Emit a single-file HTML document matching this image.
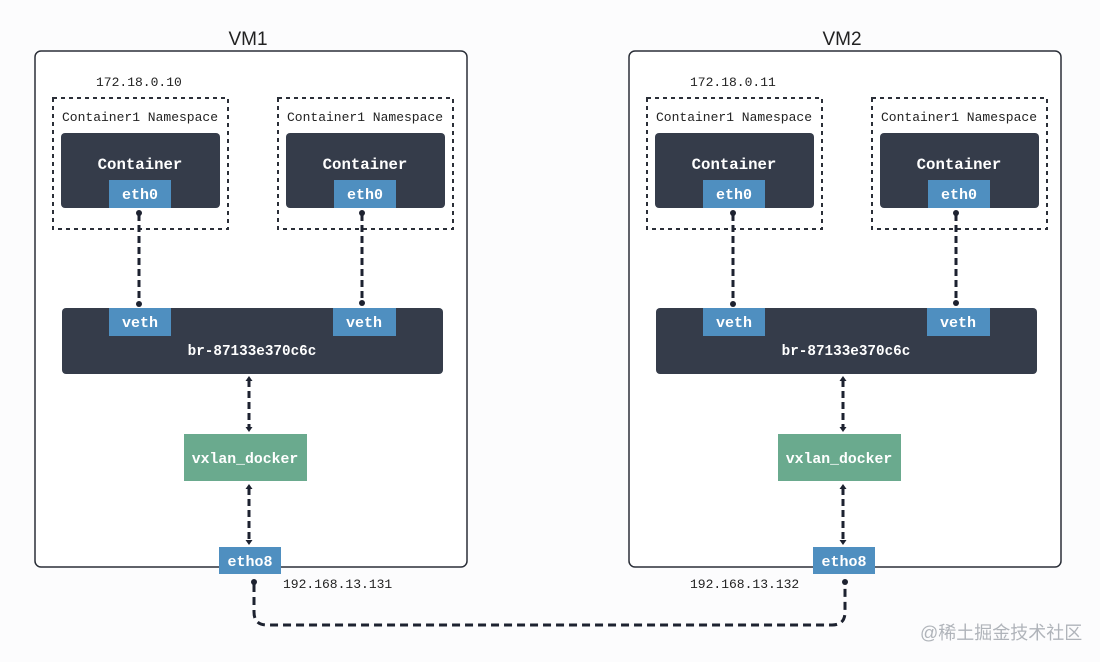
<!DOCTYPE html>
<html><head><meta charset="utf-8"><style>
html,body{margin:0;padding:0;background:#fcfcfd;}
svg{display:block}
.m{font-family:"Liberation Mono",monospace;}
</style></head><body>
<svg width="1100" height="662" viewBox="0 0 1100 662" xmlns="http://www.w3.org/2000/svg">
<rect width="1100" height="662" fill="#fcfcfd"/>
<defs>
<g id="vm">
  <rect x="35" y="51" width="432" height="516" rx="6" fill="#fff" stroke="#2b2f38" stroke-width="1.5"/>
  <rect x="53" y="98" width="175" height="131" fill="none" stroke="#2b2f38" stroke-width="2" stroke-dasharray="4,4"/>
  <rect x="278" y="98" width="175" height="131" fill="none" stroke="#2b2f38" stroke-width="2" stroke-dasharray="4,4"/>
  <text x="140" y="121" class="m" font-size="13" fill="#222" text-anchor="middle">Container1 Namespace</text>
  <text x="365" y="121" class="m" font-size="13" fill="#222" text-anchor="middle">Container1 Namespace</text>
  <rect x="61" y="133" width="159" height="75" rx="4" fill="#353c4a"/>
  <rect x="286" y="133" width="159" height="75" rx="4" fill="#353c4a"/>
  <text x="140" y="169" class="m" font-size="15.7" font-weight="bold" fill="#fff" text-anchor="middle">Container</text>
  <text x="365" y="169" class="m" font-size="15.7" font-weight="bold" fill="#fff" text-anchor="middle">Container</text>
  <rect x="109" y="180" width="62" height="28" fill="#4f8fc0"/>
  <rect x="334" y="180" width="62" height="28" fill="#4f8fc0"/>
  <text x="140" y="199" class="m" font-size="15" font-weight="bold" fill="#fff" text-anchor="middle">eth0</text>
  <text x="365" y="199" class="m" font-size="15" font-weight="bold" fill="#fff" text-anchor="middle">eth0</text>
  <rect x="62" y="308" width="381" height="66" rx="4" fill="#353c4a"/>
  <rect x="109" y="308" width="62" height="28" fill="#4f8fc0"/>
  <rect x="333" y="308" width="63" height="28" fill="#4f8fc0"/>
  <text x="140" y="327" class="m" font-size="15" font-weight="bold" fill="#fff" text-anchor="middle">veth</text>
  <text x="364" y="327" class="m" font-size="15" font-weight="bold" fill="#fff" text-anchor="middle">veth</text>
  <text x="252" y="355" class="m" font-size="14.3" font-weight="bold" fill="#fff" text-anchor="middle">br-87133e370c6c</text>
  <rect x="184" y="434" width="123" height="47" fill="#6aaa8e"/>
  <text x="245" y="463" class="m" font-size="14.8" font-weight="bold" fill="#fff" text-anchor="middle">vxlan_docker</text>
  <rect x="219" y="547" width="62" height="27" fill="#4f8fc0"/>
  <text x="250" y="566" class="m" font-size="15" font-weight="bold" fill="#fff" text-anchor="middle">etho8</text>
  <g stroke="#1d2230" stroke-width="3" stroke-dasharray="7,4" fill="none">
    <path d="M139 214 V304"/><path d="M362 214 V304"/>
    <path d="M249 380 V428"/><path d="M249 488 V540"/>
  </g>
  <g fill="#1d2230">
    <circle cx="139" cy="213" r="3"/><circle cx="139" cy="304" r="3"/>
    <circle cx="362" cy="213" r="3"/><circle cx="362" cy="303" r="3"/>
    <path d="M249 376 l-3.5 5 h7z"/><path d="M249 432 l-3.5 -5 h7z"/>
    <path d="M249 484 l-3.5 5 h7z"/><path d="M249 545 l-3.5 -5 h7z"/>
  </g>
</g>
</defs>
<use href="#vm"/>
<use href="#vm" transform="translate(594,0)"/>
<text x="248" y="45" font-family="Liberation Sans,sans-serif" font-size="19" fill="#222" text-anchor="middle">VM1</text>
<text x="842" y="45" font-family="Liberation Sans,sans-serif" font-size="19" fill="#222" text-anchor="middle">VM2</text>
<text x="96" y="86" class="m" font-size="13" fill="#222">172.18.0.10</text>
<text x="690" y="86" class="m" font-size="13" fill="#222">172.18.0.11</text>
<text x="283" y="588" class="m" font-size="13" fill="#222">192.168.13.131</text>
<text x="690" y="588" class="m" font-size="13" fill="#222">192.168.13.132</text>
<path d="M254 584 V612 Q254 625 267 625 H832 Q845 625 845 612 V584" stroke="#1d2230" stroke-width="3" stroke-dasharray="8,5" fill="none"/>
<circle cx="254" cy="582" r="3" fill="#1d2230"/>
<circle cx="845" cy="582" r="3" fill="#1d2230"/>
<text x="920" y="639" font-family="Liberation Sans,Noto Sans CJK SC,sans-serif" font-size="18" fill="#b0b4ba">@稀土掘金技术社区</text>
</svg>
</body></html>
